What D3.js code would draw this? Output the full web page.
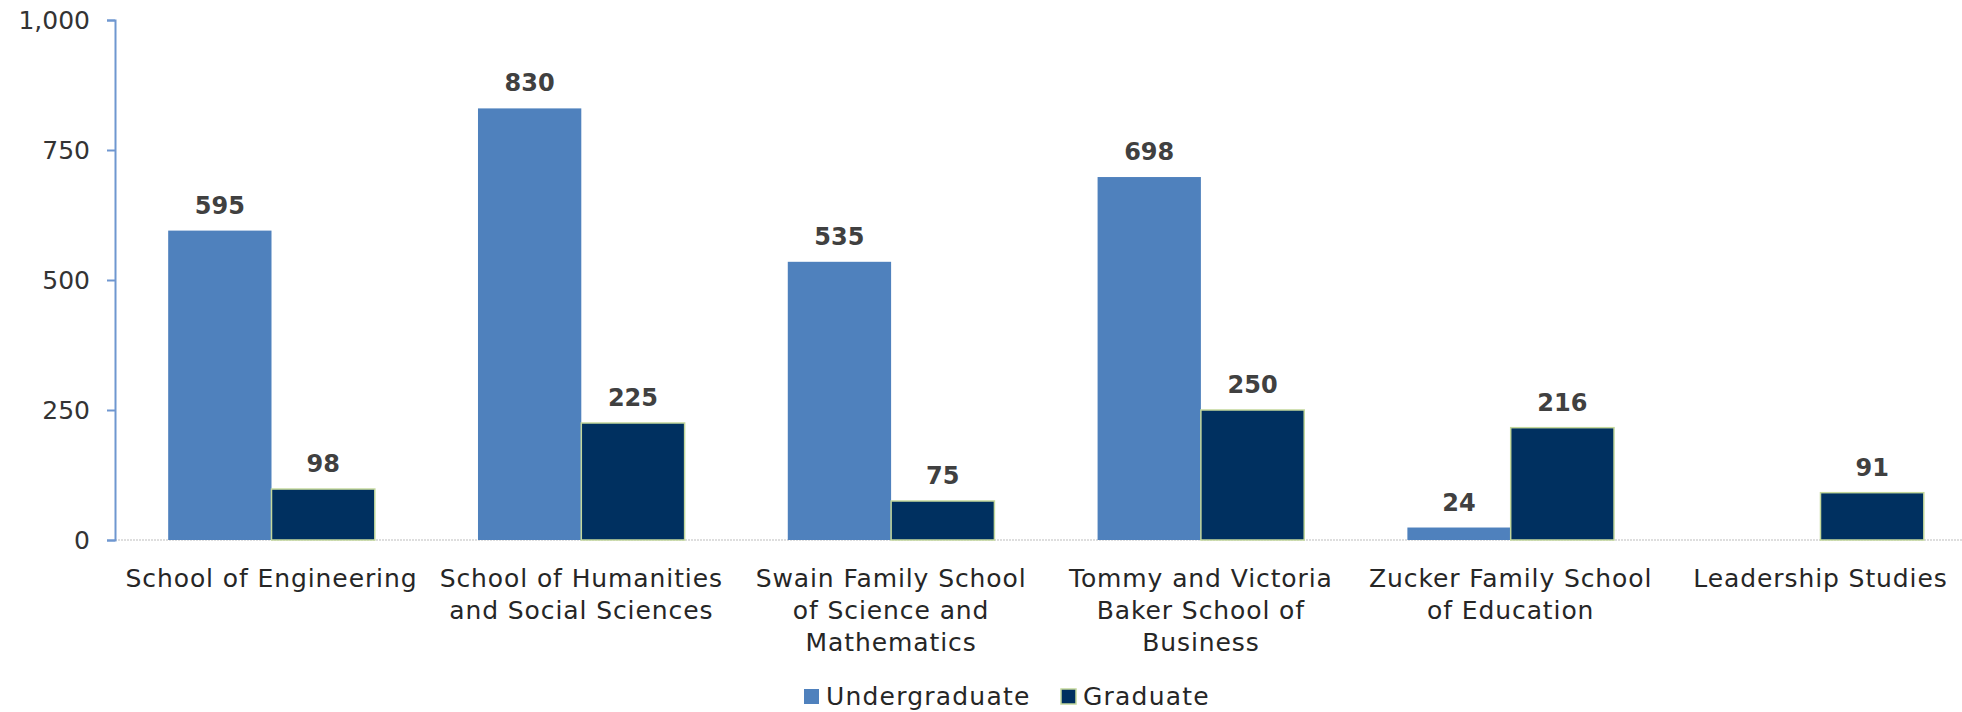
<!DOCTYPE html>
<html>
<head>
<meta charset="utf-8">
<script src="https://cdn.jsdelivr.net/npm/d3@7"></script>
<style>
  body { margin: 0; background: #fff; }
  svg text { font-family: "DejaVu Sans", Verdana, sans-serif; }
</style>
</head>
<body>
<div id="chart"></div>
<script>
// data
var schools = [
    ['School of Engineering'],
    ['School of Humanities', 'and Social Sciences'],
    ['Swain Family School', 'of Science and', 'Mathematics'],
    ['Tommy and Victoria', 'Baker School of', 'Business'],
    ['Zucker Family School', 'of Education'],
    ['Leadership Studies']
];
var undergraduate = [595, 830, 535, 698, 24, null];
var graduate = [98, 225, 75, 250, 216, 91];
var seriesNames = ['Undergraduate', 'Graduate'];
var yTicks = [0, 250, 500, 750, 1000];

var W = 1962, H = 712;
var colors = ['#4f81bd', '#003060'];

var svg = d3.select('#chart').append('svg')
    .attr('width', W)
    .attr('height', H);

var y = d3.scaleLinear().domain([0, 1000]).range([540, 20]);
var x0 = d3.scaleBand().domain(d3.range(schools.length)).range([116.6, 1975.4]).padding(0);
var bw = x0.bandwidth();
var x1 = d3.scaleBand().domain([0, 1]).range([bw * 0.1665, bw * 0.8335]).padding(0);

// baseline (dotted gray)
svg.append('line')
    .attr('x1', 115).attr('x2', W)
    .attr('y1', y(0)).attr('y2', y(0))
    .attr('stroke', '#d4d4d4')
    .attr('stroke-width', 1.5)
    .attr('stroke-dasharray', '2,1');

// y axis
var yAxis = svg.append('g')
    .attr('transform', 'translate(115,0)')
    .call(d3.axisLeft(y).tickValues(yTicks).tickSize(8).tickPadding(17).tickFormat(d3.format(',')));
yAxis.select('.domain').attr('stroke', '#6f97d0').attr('stroke-width', 2);
yAxis.selectAll('.tick line').attr('stroke', '#6f97d0').attr('stroke-width', 2);
yAxis.selectAll('.tick text')
    .attr('fill', '#333')
    .style('font-size', '25px');

var rows = schools.map(function(s, i) {
    return [undergraduate[i], graduate[i]]
        .map(function(v, j) { return {v: v, s: j}; })
        .filter(function(d) { return d.v != null; });
});

var groups = svg.selectAll('g.school').data(rows).enter().append('g')
    .attr('class', 'school')
    .attr('transform', function(d, i) { return 'translate(' + x0(i) + ',0)'; });

groups.selectAll('rect').data(function(d) { return d; }).enter()
    .append('rect')
    .attr('x', function(d) { return x1(d.s); })
    .attr('width', x1.bandwidth())
    .attr('y', function(d) { return y(d.v); })
    .attr('height', function(d) { return y(0) - y(d.v); })
    .attr('fill', function(d) { return colors[d.s]; })
    .attr('stroke', function(d) { return d.s == 1 ? '#c4d89c' : 'none'; })
    .attr('stroke-width', 1.5);

groups.selectAll('text.val').data(function(d) { return d; }).enter()
    .append('text')
    .attr('class', 'val')
    .attr('x', function(d) { return x1(d.s) + x1.bandwidth() / 2; })
    .attr('y', function(d) { return y(d.v) - 17; })
    .attr('text-anchor', 'middle')
    .attr('fill', '#404040')
    .style('font-size', '24px')
    .style('font-weight', 'bold')
    .text(function(d) { return d.v; });

// category labels
var cat = svg.selectAll('text.cat').data(schools).enter().append('text')
    .attr('class', 'cat')
    .attr('text-anchor', 'middle')
    .attr('fill', '#262626')
    .style('font-size', '25px')
    .style('letter-spacing', '0.9px')
    .attr('transform', function(d, i) { return 'translate(' + (x0(i) + bw / 2) + ',587)'; });
cat.selectAll('tspan').data(function(d) { return d; }).enter().append('tspan')
    .attr('x', 0)
    .attr('y', function(d, k) { return k * 32; })
    .text(function(d) { return d; });

// legend
var legendX = [804, 1061];
var legend = svg.selectAll('g.legendItem').data(seriesNames).enter().append('g')
    .attr('class', 'legendItem')
    .attr('transform', function(d, i) { return 'translate(' + legendX[i] + ',689)'; });
legend.append('rect')
    .attr('width', 15).attr('height', 15)
    .attr('fill', function(d, i) { return colors[i]; })
    .attr('stroke', function(d, i) { return i == 1 ? '#c4d89c' : 'none'; })
    .attr('stroke-width', 1.5);
legend.append('text')
    .attr('x', 22).attr('y', 16)
    .attr('fill', '#262626')
    .style('font-size', '25px')
    .style('letter-spacing', '1.2px')
    .text(function(d) { return d; });
</script>
</body>
</html>
